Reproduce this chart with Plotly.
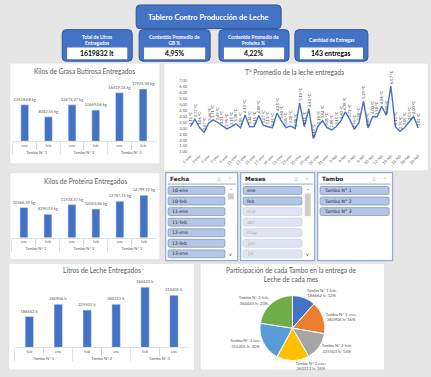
import plotly.graph_objects as go

W, H = 431, 377
FONT = "Lato"
SLFONT = "DejaVu Sans"

# ---------------- DATA ----------------
kpi_titles = ["Total de Litros<br>Entregados", "Contenido Promedio de<br>GB %",
              "Contenido Promedio de<br>Proteína %", "Cantidad de Entregas"]
kpi_values = ["1619832 lt", "4,95%", "4,22%", "143 entregas"]

tambos = ["Tambo N° 1", "Tambo N° 1", "Tambo N° 2", "Tambo N° 2", "Tambo N° 3", "Tambo N° 3"]
meses = ["ene", "feb", "ene", "feb", "ene", "feb"]
grasa_kg = [12518.68, 8362.55, 12474.27, 10669.06, 16619.14, 17925.94]
proteina_kg = [10566.59, 8190.15, 11574.37, 10053.64, 12747.15, 14799.19]

litros_tambos = ["Tambo N° 1", "Tambo N° 1", "Tambo N° 2", "Tambo N° 2", "Tambo N° 3", "Tambo N° 3"]
litros_meses = ["feb", "ene", "feb", "ene", "ene", "feb"]
litros = [186662, 260906, 225503, 260313, 315205, 364443]

fechas = ["1-ene", "2-ene", "3-ene", "4-ene", "5-ene", "6-ene", "7-ene", "8-ene", "9-ene", "10-ene",
          "11-ene", "12-ene", "13-ene", "14-ene", "15-ene", "16-ene", "17-ene", "18-ene", "19-ene",
          "20-ene", "21-ene", "22-ene", "23-ene", "24-ene", "25-ene", "26-ene", "27-ene", "28-ene",
          "29-ene", "30-ene", "31-ene", "1-feb", "2-feb", "3-feb", "4-feb", "5-feb", "6-feb", "7-feb",
          "8-feb", "9-feb", "10-feb", "11-feb", "12-feb", "13-feb", "14-feb", "15-feb", "16-feb",
          "17-feb", "18-feb", "19-feb", "20-feb"]
temperatura = [3.15, 3.77, 3.06, 2.67, 3.44, 3.71, 3.49, 3.21, 2.95, 3.15,
               3.38, 3.05, 4.13, 3.14, 3.15, 4.08, 3.27, 3.13, 3.05, 4.28,
               3.60, 3.05, 3.20, 2.98, 5.13, 3.15, 4.63, 2.13, 3.18, 3.64,
               3.05, 2.86, 3.15, 3.60, 4.38, 3.73, 2.91, 3.48, 5.29, 3.03,
               4.00, 3.98, 4.86, 4.10, 6.57, 3.13, 2.75, 3.05, 3.53, 4.00, 3.02]
temp_ticks = [1.0, 1.5, 2.0, 2.5, 3.0, 3.5, 4.0, 4.5, 5.0, 5.5, 6.0, 6.5, 7.0]

pie_colors = ["#4472c4", "#ed7d31", "#a5a5a5", "#ffc000", "#5b9bd5", "#70ad47"]

slicer_fecha = ["10-ene", "10-feb", "11-ene", "11-feb", "12-ene", "12-feb", "13-ene"]
slicer_meses = ["ene", "feb", "mar", "abr", "may", "jun", "jul"]
slicer_meses_sel = [True, True, False, False, False, False, False]
slicer_tambo = ["Tambo N° 1", "Tambo N° 2", "Tambo N° 3"]

# ---------------- HELPERS ----------------
shapes = []
annotations = []


def P(x, y):
    return f"{x / W:.5f},{1 - y / H:.5f}"


def rrect(x0, y0, x1, y1, r, fill, line="rgba(0,0,0,0)", lw=0.0):
    path = (f"M{P(x0 + r, y0)} L{P(x1 - r, y0)} Q{P(x1, y0)} {P(x1, y0 + r)} "
            f"L{P(x1, y1 - r)} Q{P(x1, y1)} {P(x1 - r, y1)} L{P(x0 + r, y1)} "
            f"Q{P(x0, y1)} {P(x0, y1 - r)} L{P(x0, y0 + r)} Q{P(x0, y0)} {P(x0 + r, y0)} Z")
    shapes.append(dict(type="path", path=path, xref="paper", yref="paper",
                       fillcolor=fill, line=dict(color=line, width=lw), layer="below"))


def rect(x0, y0, x1, y1, fill, line="rgba(0,0,0,0)", lw=0.0):
    shapes.append(dict(type="rect", xref="paper", yref="paper", x0=x0 / W, x1=x1 / W,
                       y0=1 - y1 / H, y1=1 - y0 / H, fillcolor=fill,
                       line=dict(color=line, width=lw), layer="below"))


def hline(x0, x1, y, color, lw=1.0):
    shapes.append(dict(type="line", xref="paper", yref="paper", x0=x0 / W, x1=x1 / W,
                       y0=1 - y / H, y1=1 - y / H, line=dict(color=color, width=lw), layer="below"))


def text(x, y, s, size, color="#595959", bold=False, family=FONT, xanchor="center"):
    annotations.append(dict(x=x / W, y=1 - y / H, xref="paper", yref="paper",
                            text=f"<b>{s}</b>" if bold else s, showarrow=False,
                            font=dict(size=size, color=color, family=family),
                            xanchor=xanchor, yanchor="middle", borderpad=0))


def dom_x(a, b):
    return [a / W, b / W]


def dom_y(top, bottom):
    return [1 - bottom / H, 1 - top / H]


# ---------------- PANELS ----------------
panel_line = "#d9d9d9"
rect(4, 61, 156, 163, "white", panel_line, 0.5)      # grasa
rect(160, 61, 428, 170, "white", panel_line, 0.5)    # temperatura
rect(4, 172, 156, 260, "white", panel_line, 0.5)     # proteina
rect(3, 264, 191, 372, "white", panel_line, 0.5)     # litros
rect(197, 264, 384, 372, "white", panel_line, 0.5)   # pie

# ---------------- HEADER / KPIs ----------------
rrect(132, 2, 279, 26, 4, "#4472c4", "#2f5597", 1)
text(205.5, 14.5, "Tablero Contro Producción de Leche", 7.5, "white", True)

kpi_boxes = [(57, 128), (135, 207), (216, 287), (293, 367)]
for (x0, x1), t, v in zip(kpi_boxes, kpi_titles, kpi_values):
    rrect(x0, 27, x1, 59, 4, "#4472c4", "#2f5597", 1)
    rect(x0 + 5, 45, x1 - 5, 57, "white")
    text((x0 + x1) / 2, 37, t, 4.8, "white", True)
    text((x0 + x1) / 2, 51, v, 6.8, "black", True)

# chart titles
TS = 6.6
text(80, 69, "Kilos de Grasa Butirosa Entregados", TS, "#595959")
text(293, 70, "T° Promedio de la leche entregada", TS, "#595959")
text(81, 180, "Kilos de Proteina Entregados", TS, "#595959")
text(97, 271, "Litros de Leche Entregados", TS, "#595959")
text(290, 275, "Participación de cada Tambo en la entrega de<br>Leche de cada mes", TS, "#595959")

# ---------------- SLICERS ----------------
sl_border = "#8faadc"


def slicer(x0, x1, title, items, selected, scroll=None):
    rect(x0, 172, x1, 261, "white", sl_border, 1.2)
    text(x0 + 3, 178.5, title, 5.8, "#262626", True, SLFONT, "left")
    text(x1 - 19, 178.5, "☰", 4.5, "#b0b0b0", False, SLFONT)
    text(x1 - 8, 178.5, "⊤", 4.5, "#b0b0b0", False, SLFONT)
    hline(x0 + 2, x1 - 2, 183.5, sl_border, 1)
    ix0 = x0 + 2.5
    ix1 = x1 - (13 if scroll else 3.5)
    for i, (it, sel) in enumerate(zip(items, selected)):
        cy = 190 + i * 10.7
        if cy + 4 > 260:
            break
        if sel:
            rrect(ix0, cy - 4, ix1, cy + 4, 1.5, "#b4c6e7", "#8497b0", 0.8)
            col = "#1a1a1a"
        else:
            rrect(ix0, cy - 4, ix1, cy + 4, 1.5, "#dde5f3", "#c9d3e6", 0.8)
            col = "#a6a6a6"
        text(ix0 + 2.5, cy, it, 4.6, col, False, SLFONT, "left")
    if scroll:
        sx0, sx1 = x1 - 10, x1 - 4
        text((sx0 + sx1) / 2, 190.5, "^", 4.5, "#404040", False, SLFONT)
        rect(sx0, 193, sx1, scroll, "#cdcdcd")
        text((sx0 + sx1) / 2, 255, "v", 4.5, "#404040", False, SLFONT)


slicer(162, 235, "Fecha", slicer_fecha, [True] * len(slicer_fecha), 199)
slicer(238, 313, "Meses", slicer_meses, slicer_meses_sel, 216)
slicer(316, 392, "Tambo", slicer_tambo, [True] * len(slicer_tambo))

# ---------------- TRACES ----------------
fig = go.Figure()
bar_color = "#4472c4"
lab_color = "#595959"

fig.add_trace(go.Bar(x=[tambos, meses], y=grasa_kg, marker_color=bar_color, width=0.33,
                     texttemplate="%{y:.2f} kg", textposition="outside", constraintext="none",
                     textfont=dict(size=4, color=lab_color, family=FONT), cliponaxis=False,
                     xaxis="x", yaxis="y", showlegend=False))
fig.add_trace(go.Bar(x=[tambos, meses], y=proteina_kg, marker_color=bar_color, width=0.33,
                     texttemplate="%{y:.2f} kg", textposition="outside", constraintext="none",
                     textfont=dict(size=4, color=lab_color, family=FONT), cliponaxis=False,
                     xaxis="x2", yaxis="y2", showlegend=False))
fig.add_trace(go.Bar(x=[litros_tambos, litros_meses], y=litros, marker_color=bar_color, width=0.29,
                     texttemplate="%{y:d} lt", textposition="outside", constraintext="none",
                     textfont=dict(size=4, color=lab_color, family=FONT), cliponaxis=False,
                     xaxis="x3", yaxis="y3", showlegend=False))
fig.add_trace(go.Scatter(x=fechas, y=temperatura, mode="lines",
                         line=dict(color="#4472c4", width=1.4), cliponaxis=False,
                         xaxis="x4", yaxis="y4", showlegend=False))

for f, t in zip(fechas, temperatura):
    annotations.append(dict(x=f, y=t, xref="x4", yref="y4",
                            text=f"{t:.2f}".replace(".", ",") + " °C", textangle=-90,
                            showarrow=False, yanchor="bottom", xanchor="center", yshift=1,
                            font=dict(size=4, color="#404040", family=FONT), borderpad=0))

pie_labels = [f"{t} {m}" for t, m in zip(litros_tambos, litros_meses)]
fig.add_trace(go.Pie(labels=pie_labels, values=litros, sort=False, direction="clockwise",
                     rotation=0, marker=dict(colors=pie_colors, line=dict(color="white", width=1)),
                     texttemplate="%{label};<br>%{value:d} lt; %{percent:.0%}",
                     textposition="outside", textfont=dict(size=4.2, color=lab_color, family=FONT),
                     domain=dict(x=dom_x(257.5, 323.5), y=dom_y(296.5, 362.5)),
                     showlegend=False, hoverinfo="skip"))

# ---------------- AXES ----------------
def mc_axis(a, b, anchor):
    return dict(domain=dom_x(a, b), type="multicategory", anchor=anchor,
                showline=True, linecolor="#d9d9d9", linewidth=0.8,
                ticks="outside", tickson="boundaries", ticklen=8, tickcolor="#d9d9d9",
                showdividers=True, dividercolor="#d9d9d9", dividerwidth=0.8,
                tickfont=dict(size=4, color=lab_color, family=FONT), showgrid=False,
                fixedrange=True)


def hidden_y(top, bottom, rmax, anchor):
    return dict(domain=dom_y(top, bottom), range=[0, rmax], visible=False, anchor=anchor,
                showgrid=False, fixedrange=True)


fig.update_layout(
    width=W, height=H, margin=dict(l=0, r=0, t=0, b=0),
    paper_bgcolor="#e7e6e6", plot_bgcolor="rgba(0,0,0,0)",
    separators=",.",
    font=dict(family=FONT, color=lab_color),
    xaxis=mc_axis(7, 151, "y"),
    yaxis=hidden_y(81, 140, 20000, "x"),
    xaxis2=mc_axis(6, 152, "y2"),
    yaxis2=hidden_y(190, 238, 16500, "x2"),
    xaxis3=mc_axis(9, 185, "y3"),
    yaxis3=hidden_y(280, 349, 412000, "x3"),
    xaxis4=dict(domain=dom_x(184.7, 420.3), anchor="y4", type="category",
                range=[-0.5, len(fechas) - 0.5], tickmode="array",
                tickvals=fechas[::2], ticktext=fechas[::2], tickangle=-45,
                tickfont=dict(size=4, color=lab_color, family=FONT),
                showgrid=False, showline=False, ticks="", fixedrange=True),
    yaxis4=dict(domain=dom_y(79, 151), anchor="x4", range=[1, 7], tickmode="array",
                tickvals=temp_ticks, tickformat=".2f", ticksuffix=" °C",
                tickfont=dict(size=4, color=lab_color, family=FONT),
                showgrid=False, zeroline=False, showline=False, ticks="", fixedrange=True),
    shapes=shapes,
    annotations=annotations,
    hovermode=False,
)

fig.write_html("out.html", config={"displayModeBar": False, "staticPlot": True},
               post_script="document.body.style.margin='0';document.body.style.overflow='hidden';")
